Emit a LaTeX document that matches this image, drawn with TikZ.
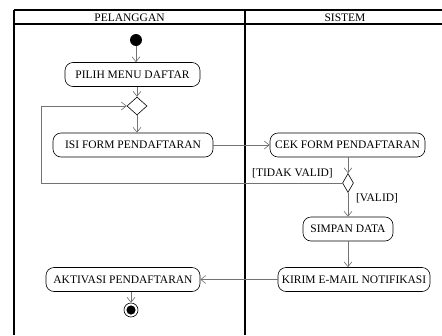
\documentclass[tikz,border=0pt]{standalone}
\usepackage{fontspec}
\setmainfont{Liberation Serif}
\usetikzlibrary{arrows.meta,shapes.geometric}

\tikzset{
  lane/.style={line width=1.3pt, black},
  action/.style={draw=black, line width=0.6pt, rounded corners=8pt,
    minimum height=24pt, inner sep=0pt, font=\fontsize{11.5}{12}\selectfont},
  decision/.style={draw=black, line width=0.6pt, diamond, inner sep=0pt, aspect=1},
  flow/.style={draw=black!55, line width=0.6pt,
    -{Straight Barb[length=5pt,width=8pt,line width=0.6pt]}},
  plainflow/.style={draw=black!55, line width=0.6pt},
  guard/.style={font=\fontsize{11.5}{12}\selectfont, inner sep=0pt},
  header/.style={font=\fontsize{11.5}{12}\selectfont, inner sep=0pt}
}

\begin{document}
\begin{tikzpicture}[x=1pt, y=-1pt]
  \useasboundingbox (0,0) rectangle (442,335);
  \fill[white] (0,0) rectangle (442,335);

  % swimlane frame
  \draw[lane] (14,10) -- (442,10);
  \draw[lane] (14,24) -- (442,24);
  \draw[lane] (14,10) -- (14,335);
  \draw[lane] (245,10) -- (245,335);
  \node[header] (hp) at (129.5,17.5) {PELANGGAN};
  \node[header] (hs) at (345,17.5) {SISTEM};

  % start and end
  \node[circle, fill=black, minimum size=12pt, inner sep=0pt] (start) at (136,40) {};
  \node[circle, draw=black, line width=0.6pt, minimum size=14pt, inner sep=0pt] (end) at (131,310) {};
  \fill[black] (end.center) circle (4.6pt);

  % actions
  \node[action, minimum width=135pt] (pilih) at (132.5,74.5) {PILIH MENU DAFTAR};
  \node[action, minimum width=160pt] (isi) at (133,145) {ISI FORM PENDAFTARAN};
  \node[action, minimum width=155pt] (cek) at (347.5,145) {CEK FORM PENDAFTARAN};
  \node[action, minimum width=90pt] (simpan) at (348,229) {SIMPAN DATA};
  \node[action, minimum width=152pt] (kirim) at (354,279.5) {KIRIM E-MAIL NOTIFIKASI};
  \node[action, minimum width=154pt] (aktivasi) at (123,279.5) {AKTIVASI PENDAFTARAN};

  % decisions
  \node[decision, minimum width=20pt, minimum height=18pt] (d1) at (137,106) {};
  \node[decision, minimum width=11pt, minimum height=19pt] (d2) at (348,183) {};
  \coordinate (loopA) at (41,183);
  \coordinate (loopB) at (41,106);

  % flows
  \draw[flow] (start) -- (start |- pilih.north);
  \draw[flow] (d1 |- pilih.south) -- (d1.north);
  \draw[flow] (d1.south) -- (d1 |- isi.north);
  \draw[flow] (isi.east) -- (cek.west);
  \draw[flow] (d2 |- cek.south) -- (d2.north);
  \draw[flow] (d2.south) -- (d2 |- simpan.north);
  \draw[plainflow] (d2.west) -- (loopA);
  \draw[flow] (loopA) -- (loopB) -- (d1.west);
  \draw[flow] (simpan.south -| d2) -- (d2 |- kirim.north);
  \draw[flow] (kirim.west) -- (aktivasi.east);
  \draw[flow] (end |- aktivasi.south) -- (end.north);

  % guards
  \node[guard] (gno) at (292.5,173) {[TIDAK VALID]};
  \node[guard] (gyes) at (377,198) {[VALID]};
\end{tikzpicture}
\end{document}
